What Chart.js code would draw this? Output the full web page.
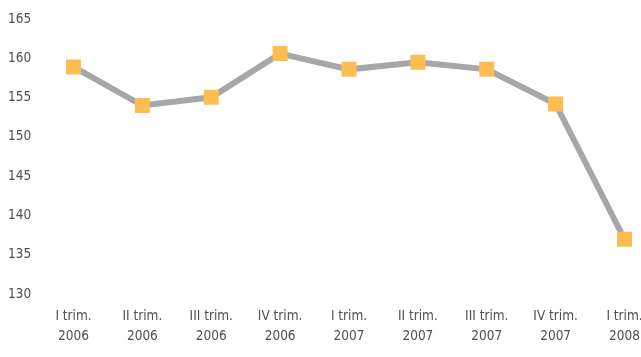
<!DOCTYPE html>
<html>
<head>
<meta charset="utf-8">
<script src="https://cdn.jsdelivr.net/npm/chart.js@4/dist/chart.umd.min.js"></script>
<style>
  html, body { margin: 0; padding: 0; background: #fff; }
  #wrap { width: 641px; height: 357px; }
</style>
</head>
<body>
<div id="wrap"><canvas id="chart"></canvas></div>
<script>
const quarters = [
  ['I trim.', '2006'], ['II trim.', '2006'], ['III trim.', '2006'], ['IV trim.', '2006'],
  ['I trim.', '2007'], ['II trim.', '2007'], ['III trim.', '2007'], ['IV trim.', '2007'],
  ['I trim.', '2008']
];
const values = [158.9, 154.0, 155.05, 160.6, 158.6, 159.5, 158.6, 154.2, 137.0];
const yMin = 130;
const yMax = 165;
const yStep = 5;

const fontFamily = "'Liberation Sans Narrow', 'DejaVu Sans Condensed', sans-serif";
const textColor = '#505050';

const chart = new Chart(document.getElementById('chart'), {
  type: 'line',
  data: {
    labels: quarters,
    datasets: [{
      data: values,
      borderColor: '#a6a7aa',
      borderWidth: 6,
      tension: 0,
      pointStyle: 'rect',
      pointRadius: 10.6,
      pointHoverRadius: 10.6,
      pointBackgroundColor: '#fdbd50',
      pointBorderWidth: 0,
      fill: false
    }]
  },
  options: {
    responsive: true,
    maintainAspectRatio: false,
    animation: false,
    layout: { padding: { left: 8, top: 19, right: 16.5, bottom: 0 } },
    plugins: { legend: { display: false }, tooltip: { enabled: false } },
    scales: {
      x: {
        grid: { display: false, drawTicks: false },
        border: { display: false },
        ticks: {
          color: textColor,
          font: { family: fontFamily, size: 13.5, lineHeight: 1.48 },
          padding: 12,
          maxRotation: 0,
          autoSkip: false
        },
        afterFit: function(scale) {
          scale.height = 62.7;
          scale.paddingLeft = 0;
          scale.paddingRight = 0;
        }
      },
      y: {
        min: yMin,
        max: yMax,
        grid: { display: false, drawTicks: false },
        border: { display: false },
        ticks: {
          stepSize: yStep,
          color: textColor,
          crossAlign: 'far',
          font: { family: fontFamily, size: 13.5 }
        },
        afterFit: function(scale) {
          scale.width = 65.5;
          scale.paddingTop = 0;
          scale.paddingBottom = 0;
        }
      }
    }
  }
});
</script>
</body>
</html>
